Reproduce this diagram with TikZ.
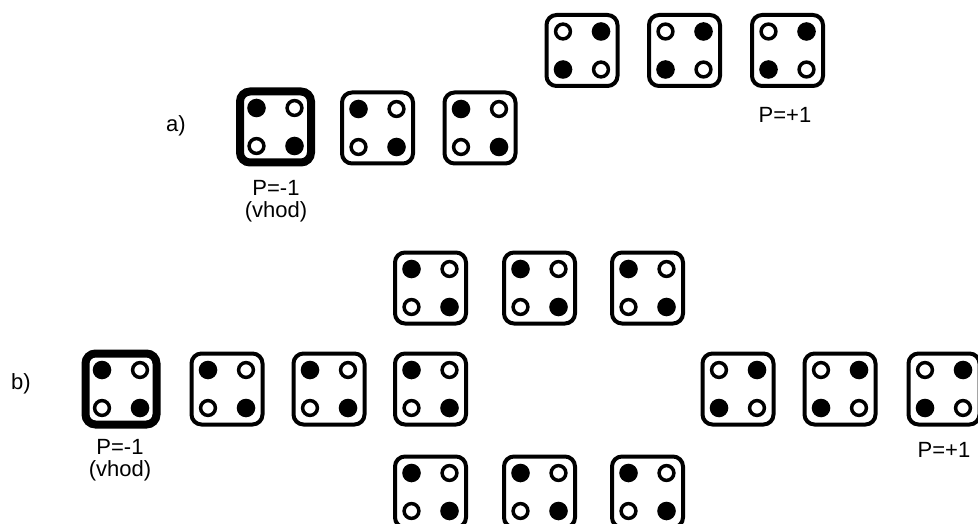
\documentclass[tikz,border=0pt]{standalone}
\usepackage{fontspec}
\setmainfont{Liberation Sans}
\tikzset{
  die/.style={draw=black, line width=4pt, rounded corners=10pt, minimum width=71pt, minimum height=71pt, inner sep=0pt, outer sep=0pt},
  thickdie/.style={die, line width=8pt},
  odot/.style={draw=black, fill=white, line width=3.5pt},
  lbl/.style={font=\fontsize{22}{22}\selectfont, align=center, inner sep=0pt}
}
% type A: filled top-left & bottom-right
\newcommand\mydotsA[1]{%
  \fill[black] ([shift={(-19,-19)}]#1.center) circle (9.3pt);
  \fill[black] ([shift={(19,19)}]#1.center) circle (9.3pt);
  \draw[odot] ([shift={(19,-19)}]#1.center) circle (7.4pt);
  \draw[odot] ([shift={(-19,19)}]#1.center) circle (7.4pt);
}
% type B: filled top-right & bottom-left
\newcommand\mydotsB[1]{%
  \fill[black] ([shift={(19,-19)}]#1.center) circle (9.3pt);
  \fill[black] ([shift={(-19,19)}]#1.center) circle (9.3pt);
  \draw[odot] ([shift={(-19,-19)}]#1.center) circle (7.4pt);
  \draw[odot] ([shift={(19,19)}]#1.center) circle (7.4pt);
}
\begin{document}
\begin{tikzpicture}[x=1pt, y=-1pt]
\useasboundingbox (0,0) rectangle (978,524);
\clip (0,0) rectangle (978,524);
% ---------- a) ----------
\node[lbl] (la) at (176,126) {a)};
\node[thickdie] (a1) at (275.5,127) {}; \mydotsA{a1}
\node[die] (a2) at (377.5,128) {}; \mydotsA{a2}
\node[die] (a3) at (480,128) {}; \mydotsA{a3}
\node[die] (a4) at (582,50.5) {}; \mydotsB{a4}
\node[die] (a5) at (684.5,50.5) {}; \mydotsB{a5}
\node[die] (a6) at (787.5,50.5) {}; \mydotsB{a6}
\node[lbl] (pa1) at (276,201) {P=-1\\(vhod)};
\node[lbl] (pa2) at (785,115) {P=+1};
% ---------- b) ----------
\node[lbl] (lb) at (21,384) {b)};
\node[thickdie] (b1) at (121,389) {}; \mydotsA{b1}
\node[die] (b2) at (227,389) {}; \mydotsA{b2}
\node[die] (b3) at (329,389) {}; \mydotsA{b3}
\node[die] (b4) at (430.5,389) {}; \mydotsA{b4}
\node[die] (t1) at (430.5,288) {}; \mydotsA{t1}
\node[die] (t2) at (539.5,288) {}; \mydotsA{t2}
\node[die] (t3) at (647.5,288) {}; \mydotsA{t3}
\node[die] (u1) at (430.5,492) {}; \mydotsA{u1}
\node[die] (u2) at (539.5,492) {}; \mydotsA{u2}
\node[die] (u3) at (647.5,492) {}; \mydotsA{u3}
\node[die] (r1) at (738,389) {}; \mydotsB{r1}
\node[die] (r2) at (840,389) {}; \mydotsB{r2}
\node[die] (r3) at (944,389) {}; \mydotsB{r3}
\node[lbl] (pb1) at (120,460) {P=-1\\(vhod)};
\node[lbl] (pb2) at (944,450) {P=+1};
\end{tikzpicture}
\end{document}
